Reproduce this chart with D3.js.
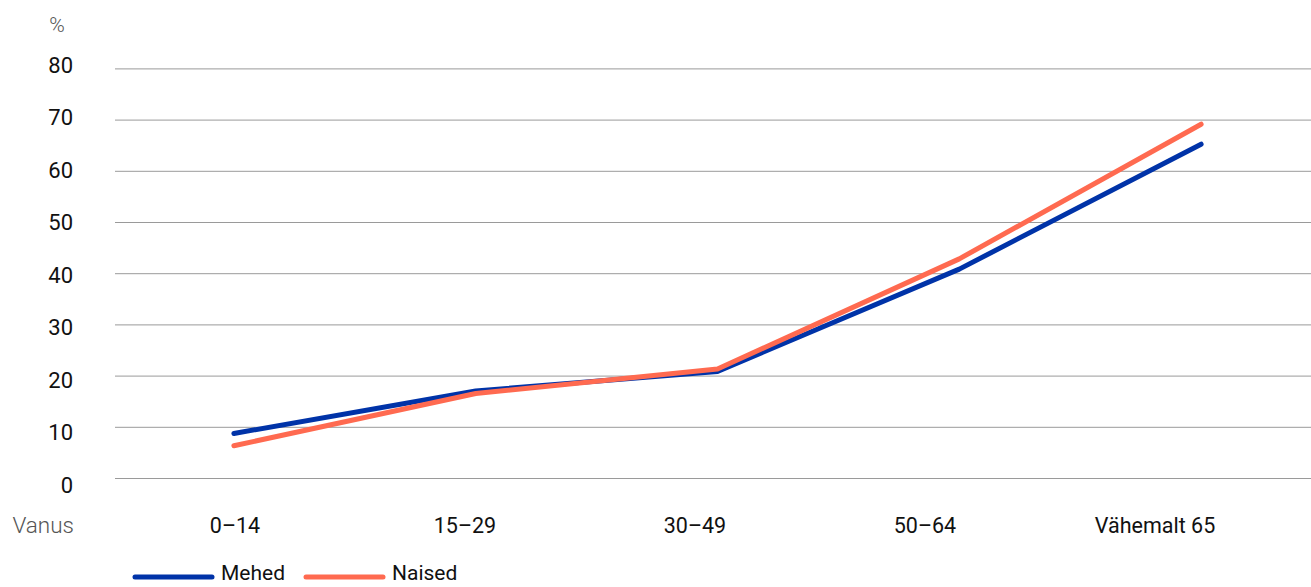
<!DOCTYPE html>
<html><head><meta charset="utf-8">
<script src="https://cdn.jsdelivr.net/npm/d3@7"></script>
<style>
body{margin:0;background:#fff;}
svg text{font-family:Roboto,"Noto Sans",sans-serif;}
</style></head>
<body><svg id="c" width="1311" height="587"></svg>
<script>
const categories = ["0–14","15–29","30–49","50–64","Vähemalt 65"];
const mehed = [8.7, 17.0, 20.8, 40.8, 65.2];
const naised = [6.3, 16.5, 21.3, 42.8, 69.1];
const yTicks = [0,10,20,30,40,50,60,70,80];
const seriesNames = ["Mehed","Naised"];
const colors = ["#0033a8","#ff6a50"];

const svg = d3.select("#c");
const x = d3.scalePoint().domain(categories).range([113, 1322]).padding(0.5);
const xLab = d3.scalePoint().domain(categories).range([235, 1155]);
const y = d3.scaleLinear().domain([0,80]).range([478, 68.4]);
const yLab = d3.scaleLinear().domain([0,80]).range([485, 65]);

// gridlines
svg.append("g").selectAll("line").data(yTicks).join("line")
  .attr("x1",115).attr("x2",1311)
  .attr("y1",d=>y(d)+0.5).attr("y2",d=>y(d)+0.5)
  .attr("stroke","#9a9a9a").attr("stroke-width",1);

// y labels
svg.append("g").selectAll("text").data(yTicks).join("text")
  .attr("x",73).attr("y",d=>yLab(d)).attr("dy","0.35em")
  .attr("text-anchor","end").attr("font-size",22).attr("fill","#111")
  .text(d=>d);

svg.append("text").attr("x",57).attr("y",32).attr("text-anchor","middle")
  .attr("font-size",21).attr("font-weight",300).attr("fill","#555").text("%");

// x labels
svg.append("g").selectAll("text").data(categories).join("text")
  .attr("x",d=>xLab(d)).attr("y",533).attr("text-anchor","middle")
  .attr("font-size",21.5).attr("fill","#111").text(d=>d);

svg.append("text").attr("x",74).attr("y",533).attr("text-anchor","end")
  .attr("font-size",22.5).attr("font-weight",300).attr("fill","#555").text("Vanus");

const line = d3.line().x((d,i)=>x(categories[i])).y(d=>y(d));
[mehed, naised].forEach((s,k)=>{
  svg.append("path").datum(s).attr("d",line).attr("fill","none")
    .attr("stroke",colors[k]).attr("stroke-width",5)
    .attr("stroke-linecap","round").attr("stroke-linejoin","round");
});

// legend
const leg = [{x:135, tx:221},{x:306, tx:392}];
seriesNames.forEach((n,k)=>{
  svg.append("line").attr("x1",leg[k].x).attr("x2",leg[k].x+77)
    .attr("y1",577).attr("y2",577).attr("stroke",colors[k]).attr("stroke-width",5)
    .attr("stroke-linecap","round");
  svg.append("text").attr("x",leg[k].tx).attr("y",580)
    .attr("font-size",21).attr("fill","#111").text(n);
});
</script></body></html>
